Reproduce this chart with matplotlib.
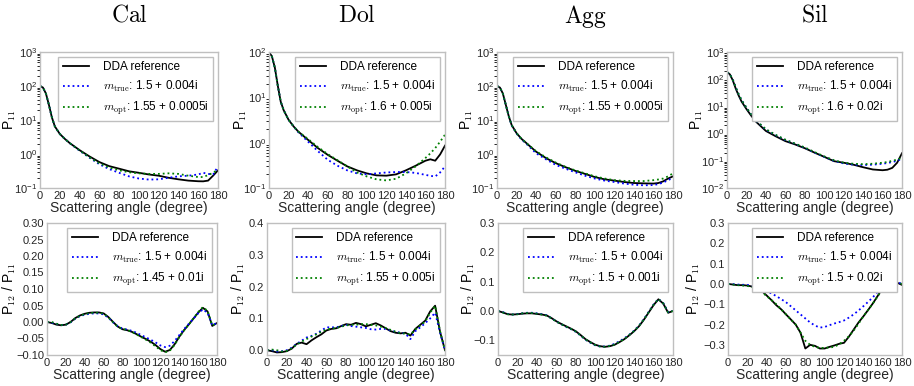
import numpy as np
import matplotlib
matplotlib.use('Agg')
from matplotlib import pyplot as plt

plt.rcParams['font.family'] = ['Liberation Sans', 'DejaVu Sans']
plt.rcParams['mathtext.fontset'] = 'cm'
plt.rcParams['font.size'] = 8.5

# scattering angles
ang11 = [0, 3, 6, 9, 12, 15, 20, 25, 30, 40, 50, 60, 70, 80, 90, 100, 110, 120,
         130, 140, 150, 160, 165, 170, 175, 180]
ang12 = list(range(0, 181, 5))

names = ['Cal', 'Dol', 'Agg', 'Sil']

# P11 : DDA reference / m_true / m_opt
cal_p11_dda = [100, 90, 60, 28, 12, 6.5, 3.9, 2.8, 2.1, 1.3, 0.85, 0.58, 0.44, 0.37, 0.31, 0.28,
               0.25, 0.23, 0.2, 0.18, 0.165, 0.158, 0.157, 0.165, 0.23, 0.33]
cal_p11_true = [100, 90, 60, 28, 12, 6.5, 3.9, 2.8, 2.1, 1.25, 0.78, 0.5, 0.36, 0.28, 0.22, 0.19,
                0.177, 0.18, 0.2, 0.22, 0.23, 0.25, 0.28, 0.26, 0.25, 0.43]
cal_p11_opt = [100, 90, 60, 28, 12, 6.5, 3.9, 2.8, 2.1, 1.28, 0.8, 0.53, 0.4, 0.33, 0.29, 0.27,
               0.26, 0.26, 0.27, 0.26, 0.23, 0.21, 0.21, 0.24, 0.28, 0.35]

dol_p11_dda = [100, 80, 45, 18, 8, 5.2, 3.2, 2.3, 1.75, 1.15, 0.76, 0.54, 0.4, 0.3, 0.245, 0.21,
               0.19, 0.187, 0.2, 0.245, 0.31, 0.4, 0.43, 0.4, 0.55, 0.86]
dol_p11_true = [100, 80, 45, 18, 8, 5.2, 3.2, 2.3, 1.7, 1.05, 0.65, 0.42, 0.31, 0.245, 0.21, 0.2,
                0.21, 0.22, 0.225, 0.225, 0.215, 0.195, 0.185, 0.18, 0.22, 0.3]
dol_p11_opt = [100, 80, 45, 18, 8, 5.2, 3.2, 2.3, 1.75, 1.2, 0.8, 0.56, 0.41, 0.3, 0.22, 0.18,
               0.155, 0.147, 0.16, 0.21, 0.3, 0.46, 0.58, 0.76, 1.05, 1.5]

agg_p11_dda = [100, 90, 60, 28, 13, 7.1, 4.1, 2.8, 2.1, 1.17, 0.76, 0.54, 0.41, 0.32, 0.26, 0.21,
               0.18, 0.165, 0.15, 0.14, 0.137, 0.135, 0.14, 0.157, 0.19, 0.22]
agg_p11_true = [100, 90, 60, 28, 13, 7.0, 4.0, 2.7, 2.0, 1.05, 0.7, 0.48, 0.37, 0.29, 0.23, 0.19,
                0.165, 0.15, 0.135, 0.125, 0.12, 0.122, 0.13, 0.145, 0.17, 0.2]
agg_p11_opt = [100, 90, 60, 28, 13, 7.1, 4.1, 2.8, 2.1, 1.2, 0.8, 0.56, 0.42, 0.33, 0.27, 0.22,
               0.19, 0.17, 0.162, 0.16, 0.16, 0.17, 0.178, 0.19, 0.22, 0.27]

sil_p11_dda = [186, 150, 90, 45, 25, 15, 8, 4.5, 2.7, 1.25, 0.8, 0.53, 0.4, 0.29, 0.2, 0.14,
               0.097, 0.085, 0.072, 0.058, 0.048, 0.045, 0.047, 0.055, 0.085, 0.19]
sil_p11_true = [180, 150, 95, 50, 28, 17, 9, 5, 3.0, 1.4, 0.88, 0.58, 0.42, 0.3, 0.2, 0.14,
                0.1, 0.08, 0.072, 0.07, 0.072, 0.078, 0.083, 0.09, 0.1, 0.12]
sil_p11_opt = [180, 150, 95, 50, 28, 17, 9, 5, 3.0, 1.45, 0.9, 0.6, 0.43, 0.31, 0.21, 0.145,
               0.105, 0.085, 0.078, 0.075, 0.078, 0.085, 0.09, 0.1, 0.11, 0.13]

# P12 / P11 : DDA reference / m_true / m_opt
cal_p12_dda = [0.0, -0.003, -0.008, -0.01, -0.008, 0.0, 0.012, 0.02, 0.025, 0.028, 0.029, 0.029,
               0.026, 0.015, 0.0, -0.014, -0.022, -0.025, -0.03, -0.037, -0.045, -0.052, -0.06,
               -0.07, -0.082, -0.09, -0.085, -0.068, -0.045, -0.025, -0.008, 0.01, 0.028, 0.043,
               0.032, -0.012, -0.003]
cal_p12_true = [0.0, -0.002, -0.006, -0.009, -0.008, -0.001, 0.01, 0.018, 0.022, 0.025, 0.026,
                0.026, 0.023, 0.013, -0.001, -0.013, -0.02, -0.023, -0.027, -0.033, -0.04, -0.047,
                -0.054, -0.062, -0.071, -0.076, -0.072, -0.058, -0.04, -0.022, -0.006, 0.01, 0.026,
                0.038, 0.028, -0.01, -0.003]
cal_p12_opt = [0.0, 0.0, -0.005, -0.009, -0.008, 0.0, 0.011, 0.019, 0.024, 0.027, 0.028, 0.028,
               0.025, 0.014, -0.001, -0.015, -0.021, -0.024, -0.03, -0.038, -0.046, -0.054, -0.063,
               -0.074, -0.085, -0.092, -0.087, -0.07, -0.046, -0.026, -0.008, 0.011, 0.03, 0.045,
               0.034, -0.01, -0.003]

dol_p12_dda = [0.0, -0.003, -0.007, -0.006, -0.003, 0.005, 0.02, 0.024, 0.019, 0.031, 0.041, 0.05,
               0.062, 0.067, 0.069, 0.076, 0.082, 0.08, 0.086, 0.082, 0.075, 0.08, 0.085, 0.078,
               0.069, 0.06, 0.055, 0.053, 0.055, 0.046, 0.067, 0.08, 0.093, 0.122, 0.14, 0.058, 0.0]
dol_p12_true = [0.0, 0.0, -0.004, -0.003, 0.0, 0.008, 0.02, 0.03, 0.04, 0.045, 0.052, 0.062, 0.072,
                0.072, 0.072, 0.076, 0.08, 0.076, 0.074, 0.072, 0.07, 0.066, 0.065, 0.067, 0.067,
                0.062, 0.058, 0.055, 0.052, 0.035, 0.06, 0.072, 0.085, 0.1, 0.118, 0.055, 0.0]
dol_p12_opt = [0.0, 0.002, 0.0, -0.004, -0.002, 0.006, 0.018, 0.027, 0.035, 0.043, 0.05, 0.058,
               0.065, 0.068, 0.07, 0.074, 0.078, 0.08, 0.08, 0.082, 0.082, 0.08, 0.078, 0.074, 0.07,
               0.064, 0.058, 0.054, 0.052, 0.05, 0.065, 0.078, 0.09, 0.118, 0.14, 0.06, 0.0]

agg_p12_dda = [0.0, -0.005, -0.011, -0.012, -0.011, -0.009, -0.008, -0.008, -0.01, -0.012, -0.015,
               -0.024, -0.035, -0.044, -0.052, -0.06, -0.069, -0.082, -0.096, -0.106, -0.115,
               -0.12, -0.122, -0.12, -0.115, -0.106, -0.096, -0.083, -0.069, -0.052, -0.03,
               -0.005, 0.02, 0.04, 0.025, -0.006, 0.0]
agg_p12_true = [0.0, -0.004, -0.01, -0.012, -0.01, -0.008, -0.006, -0.006, -0.008, -0.011, -0.015,
                -0.025, -0.036, -0.045, -0.054, -0.062, -0.071, -0.084, -0.098, -0.108, -0.117,
                -0.121, -0.121, -0.118, -0.112, -0.103, -0.093, -0.081, -0.067, -0.05, -0.028,
                -0.003, 0.022, 0.041, 0.027, -0.004, 0.0]
agg_p12_opt = [0.0, -0.005, -0.011, -0.012, -0.011, -0.008, -0.007, -0.007, -0.009, -0.012, -0.016,
               -0.025, -0.036, -0.045, -0.053, -0.061, -0.07, -0.083, -0.097, -0.107, -0.116,
               -0.121, -0.122, -0.119, -0.114, -0.105, -0.095, -0.082, -0.068, -0.051, -0.029,
               -0.004, 0.021, 0.041, 0.026, -0.005, 0.0]

sil_p12_dda = [0.0, -0.003, -0.006, -0.006, -0.008, -0.013, -0.021, -0.035, -0.057, -0.08, -0.105,
               -0.125, -0.15, -0.175, -0.2, -0.24, -0.318, -0.3, -0.305, -0.318, -0.318, -0.31,
               -0.303, -0.295, -0.29, -0.26, -0.225, -0.19, -0.16, -0.128, -0.095, -0.058, -0.02,
               0.006, 0.015, 0.006, -0.005]
sil_p12_true = [0.0, -0.001, -0.003, -0.004, -0.005, -0.009, -0.015, -0.024, -0.035, -0.047, -0.06,
                -0.075, -0.09, -0.11, -0.13, -0.15, -0.17, -0.19, -0.205, -0.215, -0.212, -0.203,
                -0.195, -0.188, -0.18, -0.166, -0.15, -0.131, -0.11, -0.088, -0.065, -0.038,
                -0.01, 0.01, 0.02, 0.01, 0.0]
sil_p12_opt = [0.0, -0.003, -0.006, -0.008, -0.01, -0.016, -0.025, -0.04, -0.06, -0.08, -0.1,
               -0.125, -0.15, -0.175, -0.2, -0.24, -0.28, -0.3, -0.31, -0.315, -0.315, -0.313,
               -0.31, -0.297, -0.28, -0.258, -0.23, -0.196, -0.16, -0.128, -0.095, -0.06, -0.025,
               0.0, 0.015, 0.008, 0.0]

p11 = [(cal_p11_dda, cal_p11_true, cal_p11_opt), (dol_p11_dda, dol_p11_true, dol_p11_opt),
       (agg_p11_dda, agg_p11_true, agg_p11_opt), (sil_p11_dda, sil_p11_true, sil_p11_opt)]
p12 = [(cal_p12_dda, cal_p12_true, cal_p12_opt), (dol_p12_dda, dol_p12_true, dol_p12_opt),
       (agg_p12_dda, agg_p12_true, agg_p12_opt), (sil_p12_dda, sil_p12_true, sil_p12_opt)]

m_true = '1.5 + 0.004i'
m_opt11 = ['1.55 + 0.0005i', '1.6 + 0.005i', '1.55 + 0.0005i', '1.6 + 0.02i']
m_opt12 = ['1.45 + 0.01i', '1.55 + 0.005i', '1.5 + 0.001i', '1.5 + 0.02i']

ylim11 = [(1e-1, 1e3), (1e-1, 1e2), (1e-1, 1e3), (1e-2, 1e3)]
ylim12 = [(-0.10, 0.30), (-0.015, 0.4), (-0.15, 0.3), (-0.35, 0.3)]
ystep12 = [0.05, 0.1, 0.1, 0.1]

# axes boxes in pixels (left, right) and y-label offsets from the left spine
W, H = 914, 386
row1 = [(40, 218), (269, 445), (497, 673), (727, 902)]
row2 = [(47, 217), (267, 445), (498, 673), (728, 902)]
lab1 = [-22, -20, -22, -22]
lab2 = [-29, -20, -21, -26]

fig = plt.figure(figsize=(W / 100, H / 100), dpi=100)


def style(ax):
    for s in ax.spines.values():
        s.set_color('#bfbfbf')
        s.set_linewidth(1.0)
    ax.tick_params(length=0, pad=2, colors='#262626', labelsize=8)
    ax.set_xlim(0, 180)
    ax.set_xticks(range(0, 181, 20))
    ax.set_xlabel('Scattering angle (degree)', fontsize=10, labelpad=0, color='#262626')


def draw(ax, x, ys, opt):
    ax.plot(x, ys[0], color='k', lw=1.3, label='DDA reference')
    ax.plot(x, ys[1], color='#0000ff', lw=1.3, ls=':', label=r'$m_{\rm true}$: ' + m_true)
    ax.plot(x, ys[2], color='#008000', lw=1.3, ls=':', label=r'$m_{\rm opt}$: ' + opt)
    leg = ax.legend(loc='upper right', fontsize=8.5, fancybox=False, framealpha=1,
                    borderaxespad=0.4, handlelength=2.2, handletextpad=1.2, labelspacing=0.45)
    leg.get_frame().set_edgecolor('#bfbfbf')
    leg.get_frame().set_linewidth(1.0)


for i in range(4):
    l, r = row1[i]
    ax = fig.add_axes([l / W, 1 - 188 / H, (r - l) / W, 136 / H])
    draw(ax, ang11, p11[i], m_opt11[i])
    ax.set_yscale('log')
    ax.set_ylim(*ylim11[i])
    style(ax)
    ax.set_ylabel(r'P$_{11}$', fontsize=10)
    ax.yaxis.set_label_coords(lab1[i] / (r - l), 0.5)
    fig.text((l + r) / 2 / W, 1 - 16 / H, r'$\mathrm{%s}$' % names[i], fontsize=17,
             ha='center', va='center')

    l, r = row2[i]
    ax = fig.add_axes([l / W, 1 - 355 / H, (r - l) / W, 132 / H])
    draw(ax, ang12, p12[i], m_opt12[i])
    lo, hi = ylim12[i]
    ax.set_ylim(lo, hi)
    st = ystep12[i]
    ax.set_yticks(np.arange(np.ceil(lo / st - 1e-9) * st, hi + 1e-9, st))
    style(ax)
    ax.set_ylabel(r'P$_{12}$ / P$_{11}$', fontsize=10)
    ax.yaxis.set_label_coords(lab2[i] / (r - l), 0.5)

fig.savefig('out.png', dpi=100)
